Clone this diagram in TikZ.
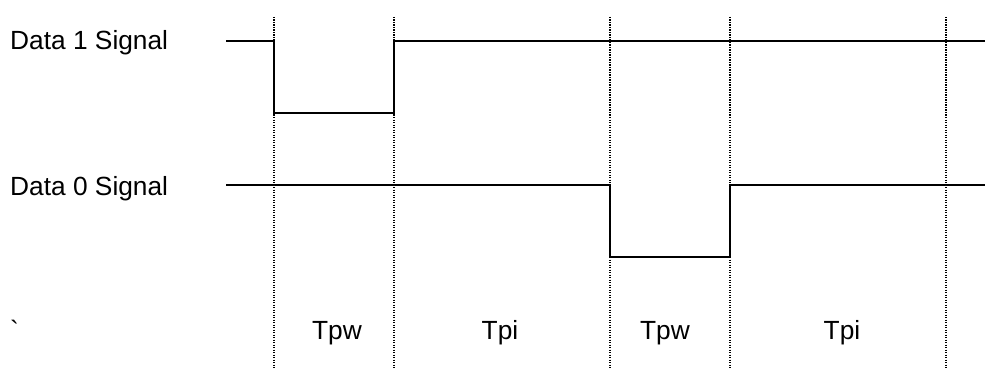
\documentclass[tikz,border=0pt]{standalone}
\usepackage{fontspec}
\setmainfont{Liberation Sans}
\newfontfamily\rawfont{Liberation Sans}
\begin{document}
\begin{tikzpicture}[x=1pt,y=-1pt,
  lbl/.style={inner sep=0pt,font=\fontsize{26.3pt}{31pt}\selectfont},
  wave/.style={line width=2pt,line join=miter},
  grid/.style={line width=1.5pt,dash pattern=on 1.3pt off 1.2pt}]
\useasboundingbox (0,0) rectangle (985,369);
% vertical dotted markers
\foreach \x/\n in {274/a,394/b,610/c,730/d,946/e}{
  \coordinate (t\n) at (\x,17);
  \coordinate (b\n) at (\x,369);
  \draw[grid] (t\n) -- (b\n);
}
% waveforms
\coordinate (s1) at (226,41);
\coordinate (e1) at (985,41);
\coordinate (s0) at (226,185);
\coordinate (e0) at (985,185);
\draw[wave] (s1) -- (274,41) -- (274,113) -- (394,113) -- (394,41) -- (e1);
\draw[wave] (s0) -- (610,185) -- (610,257) -- (730,257) -- (730,185) -- (e0);
% labels
\node[lbl,anchor=base west] (d1) at (10,50) {Data 1 Signal};
\node[lbl,anchor=base west] (d0) at (10,195) {Data 0 Signal};
\node[lbl,anchor=base west] (bq) at (10,339) {\rawfont `};
\node[lbl,anchor=base] (pw1) at (337,339) {Tpw};
\node[lbl,anchor=base] (pi1) at (500,339) {Tpi};
\node[lbl,anchor=base] (pw2) at (665,339) {Tpw};
\node[lbl,anchor=base] (pi2) at (842,339) {Tpi};
\end{tikzpicture}
\end{document}
